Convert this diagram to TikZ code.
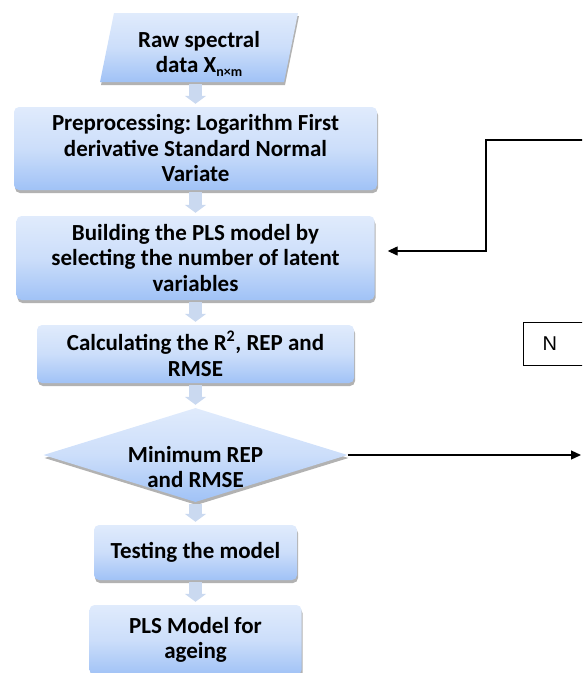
\documentclass[tikz,border=0pt]{standalone}
\usepackage{fontspec}
\setmainfont{Carlito}
\newfontfamily\arialf{Liberation Sans}
\usetikzlibrary{shapes.geometric,shadows,arrows.meta,calc}
\definecolor{boxtop}{RGB}{224,235,252}
\definecolor{boxmid}{RGB}{204,222,250}
\definecolor{boxbot}{RGB}{160,194,246}
\definecolor{arrcol}{RGB}{202,217,240}
\frenchspacing
\begin{document}
\begin{tikzpicture}[x=1pt,y=-1pt,
  txt/.style={font=\fontsize{23}{25.5}\selectfont\bfseries, align=center},
  shadowed/.style={drop shadow={shadow xshift=1pt,shadow yshift=-3pt,opacity=0.3,fill=black}},
  bluefill/.style={top color=boxtop, bottom color=boxbot, middle color=boxmid},
  procbox/.style={txt, shadowed, bluefill, rounded corners=5pt, inner sep=0pt},
  decision/.style={shadowed, bluefill, diamond, aspect=3.2, inner sep=0pt},
  barrow/.style={line width=13pt, draw=arrcol, line cap=butt,
    -{Triangle[width=21pt,length=8pt]}, shorten <=2pt, shorten >=3pt},
  conn/.style={line width=1.3pt, draw=black, -{Triangle[width=9pt,length=10pt]}},
  nbox/.style={draw=black, line width=1pt, minimum height=43pt, text width=70pt,
    align=left, inner xsep=19pt, font=\arialf\fontsize{20}{20}\selectfont}
]
\useasboundingbox (0,0) rectangle (582,673);
\clip (0,0) rectangle (582,673);

% parallelogram input
\path[shadowed, bluefill] (114,13) -- (298,13) -- (284,82) -- (100,82) -- cycle;
\node[minimum width=170pt, minimum height=69pt, inner sep=0pt] (raw) at (195.5,47.5) {};
\node[txt] (rawtext) at (199,54) {Raw spectral\\data X{\rmfamily\fontsize{14}{14}\selectfont\raisebox{-4pt}{n×m}}};

\node[procbox, minimum width=363pt, minimum height=83pt] (pre) at (195.5,148.5)
  {Preprocessing: Logarithm First\\derivative Standard Normal\\Variate};
\node[procbox, minimum width=358pt, minimum height=84pt] (build) at (195.5,258)
  {Building the PLS model by\\selecting the number of latent\\variables};
\node[procbox, minimum width=317pt, minimum height=58pt] (calc) at (195.5,354)
  {Calculating the R\textsuperscript{2}, REP and\\RMSE};
\node[decision, minimum width=304pt, minimum height=94pt] (dia) at (195.5,455) {};
\node[txt] (diatext) at (195.5,467) {Minimum REP\\and RMSE};
\node[procbox, minimum width=203pt, minimum height=55pt] (test) at (195.5,552.5)
  {Testing the model};
\node[procbox, minimum width=212pt, minimum height=70pt] (final) at (195.5,640)
  {PLS Model for\\ageing};

\node[nbox, anchor=north west] (nlabel) at (523,322) {N};

% block arrows
\draw[barrow] (raw.south) -- (pre.north);
\draw[barrow] (pre.south) -- (build.north);
\draw[barrow] (build.south) -- (calc.north);
\draw[barrow] (calc.south) -- (dia.north);
\draw[barrow] (dia.south) -- (test.north);
\draw[barrow] (test.south) -- (final.north);

% line connectors
\coordinate (fbin) at (583,140);
\coordinate (fbcorner) at (486,140);
\coordinate (nout) at (581,455);
\draw[conn] (fbin) -- (fbcorner) |- ([xshift=13pt,yshift=7pt]build.east);
\draw[conn] (dia.east) -- (dia.east -| nout);
\end{tikzpicture}
\end{document}
